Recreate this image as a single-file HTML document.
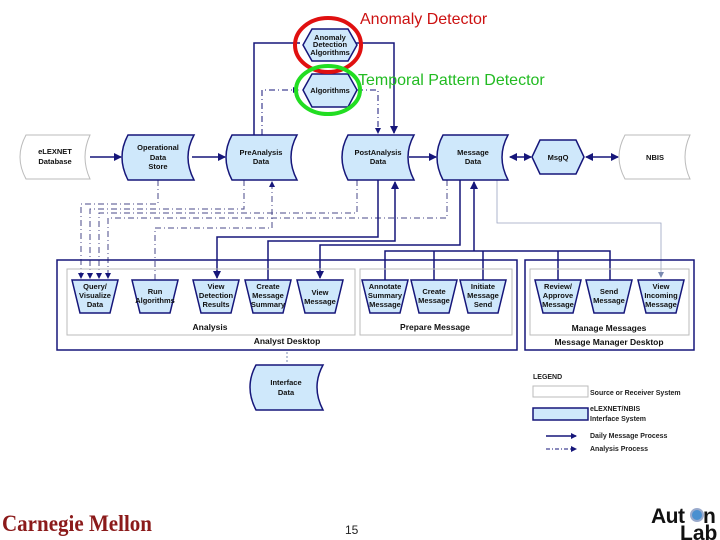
<!DOCTYPE html>
<html><head><meta charset="utf-8"><style>
html,body{margin:0;padding:0;background:#fff;width:720px;height:540px;overflow:hidden}
svg{display:block}
.s{font-family:"Liberation Sans",sans-serif}
</style></head><body>
<svg width="720" height="540" viewBox="0 0 720 540" xmlns="http://www.w3.org/2000/svg">
<defs>
<marker id="a" markerWidth="8" markerHeight="8" refX="7" refY="4" orient="auto" markerUnits="userSpaceOnUse"><path d="M0,0 L8,4 L0,8 z" fill="#16167a"/></marker>
<marker id="as" markerWidth="6" markerHeight="6" refX="5" refY="3" orient="auto" markerUnits="userSpaceOnUse"><path d="M0,0 L6,3 L0,6 z" fill="#16167a"/></marker>
<marker id="ag" markerWidth="6" markerHeight="6" refX="5" refY="3" orient="auto" markerUnits="userSpaceOnUse"><path d="M0,0 L6,3 L0,6 z" fill="#7a8ab0"/></marker>
<marker id="ab" markerWidth="8" markerHeight="8" refX="1" refY="4" orient="auto" markerUnits="userSpaceOnUse"><path d="M8,0 L0,4 L8,8 z" fill="#16167a"/></marker>
</defs>
<g fill="none" stroke="#16167a">
<polyline points="254,135 254,43 300,43" stroke-width="1.5"/>
<polyline points="356,43 394,43 394,133" stroke-width="1.5" marker-end="url(#a)"/>
<polyline points="262,135 262,90 298,90" stroke-width="1" stroke-dasharray="6,3,1,3" marker-end="url(#as)"/>
<polyline points="357,90 378,90 378,133" stroke-width="1" stroke-dasharray="6,3,1,3" marker-end="url(#as)"/>
<line x1="90" y1="157" x2="121" y2="157" stroke-width="1.5" marker-end="url(#a)"/>
<line x1="192" y1="157" x2="225" y2="157" stroke-width="1.5" marker-end="url(#a)"/>
<line x1="409" y1="157" x2="436" y2="157" stroke-width="1.5" marker-end="url(#a)"/>
<line x1="510" y1="157" x2="531" y2="157" stroke-width="1.5" marker-end="url(#a)" marker-start="url(#ab)"/>
<line x1="586" y1="157" x2="618" y2="157" stroke-width="1.5" marker-end="url(#a)" marker-start="url(#ab)"/>
<g stroke-width="1" stroke-dasharray="6,3,1,3" stroke="#4a4a8a">
<polyline points="158,180 158,204 81,204 81,278" marker-end="url(#as)"/>
<polyline points="244,180 244,209 90,209 90,278" marker-end="url(#as)"/>
<polyline points="357,180 357,213 99,213 99,278" marker-end="url(#as)"/>
<polyline points="447,180 447,218 108,218 108,278" marker-end="url(#as)"/>
<polyline points="155,280 155,228 272,228 272,182" marker-end="url(#as)"/>
</g>
<g stroke-width="1.5">
<polyline points="378,180 378,237 217,237 217,278" marker-end="url(#a)"/>
<polyline points="268,280 268,241 395,241 395,182" marker-end="url(#a)"/>
<polyline points="460,180 460,245 320,245 320,278" marker-end="url(#a)"/>
<polyline points="385,280 385,251 610,251 610,280"/>
<line x1="434" y1="251" x2="434" y2="280"/>
<line x1="483" y1="251" x2="483" y2="280"/>
<line x1="558" y1="251" x2="558" y2="280"/>
<line x1="474" y1="251" x2="474" y2="182" marker-end="url(#a)"/>
</g>
<polyline points="497,180 497,223 661,223 661,277" stroke="#9aa4c0" stroke-width="0.8" marker-end="url(#ag)"/>
<line x1="287" y1="352" x2="287" y2="363" stroke="#7a8ab0" stroke-width="1" stroke-dasharray="2,2"/>
</g>
<rect x="57" y="260" width="460" height="90" fill="none" stroke="#16167a" stroke-width="1.5"/>
<rect x="67" y="269" width="288" height="66" fill="none" stroke="#bbb" stroke-width="1"/>
<rect x="360" y="269" width="152" height="66" fill="none" stroke="#bbb" stroke-width="1"/>
<rect x="525" y="260" width="169" height="90" fill="none" stroke="#16167a" stroke-width="1.5"/>
<rect x="530" y="269" width="159" height="66" fill="none" stroke="#bbb" stroke-width="1"/>
<g stroke-width="1.5">
<path d="M26,135 L90,135 Q80,157 90,179 L26,179 Q14,157 26,135 Z" fill="#fff" stroke="#bbb" stroke-width="1"/>
<path d="M128,135 L194,135 Q182,157 194,180 L128,180 Q116,157 128,135 Z" fill="#cfe8fb" stroke="#16167a"/>
<path d="M232,135 L297,135 Q285,157 297,180 L232,180 Q220,157 232,135 Z" fill="#cfe8fb" stroke="#16167a"/>
<path d="M348,135 L414,135 Q402,157 414,180 L348,180 Q336,157 348,135 Z" fill="#cfe8fb" stroke="#16167a"/>
<path d="M443,135 L508,135 Q496,157 508,180 L443,180 Q431,157 443,135 Z" fill="#cfe8fb" stroke="#16167a"/>
<path d="M625,135 L690,135 Q680,157 690,179 L625,179 Q613,157 625,135 Z" fill="#fff" stroke="#bbb" stroke-width="1"/>
<path d="M256,365 L323,365 Q311,387 323,410 L256,410 Q244,387 256,365 Z" fill="#cfe8fb" stroke="#16167a"/>
<polygon points="540,140 576,140 584,157 576,174 540,174 532,157" fill="#cfe8fb" stroke="#16167a"/>
<polygon points="312,29 348,29 357,45 348,61 312,61 303,45" fill="#cfe8fb" stroke="#16167a"/>
<polygon points="312,74 348,74 357,90 348,107 312,107 303,90" fill="#cfe8fb" stroke="#16167a"/>
</g>
<g fill="#cfe8fb" stroke="#16167a" stroke-width="1.5">
<polygon points="72,280 118,280 110,313 80,313"/>
<polygon points="132,280 178,280 170,313 140,313"/>
<polygon points="193,280 239,280 231,313 201,313"/>
<polygon points="245,280 291,280 283,313 253,313"/>
<polygon points="297,280 343,280 335,313 305,313"/>
<polygon points="362,280 408,280 400,313 370,313"/>
<polygon points="411,280 457,280 449,313 419,313"/>
<polygon points="460,280 506,280 498,313 468,313"/>
<polygon points="535,280 581,280 573,313 543,313"/>
<polygon points="586,280 632,280 624,313 594,313"/>
<polygon points="638,280 684,280 676,313 646,313"/>
</g>
<ellipse cx="328" cy="45" rx="33" ry="27" fill="none" stroke="#e01010" stroke-width="4"/>
<ellipse cx="328" cy="90" rx="32" ry="24" fill="none" stroke="#22dd22" stroke-width="4"/>
<text class="s" x="360" y="24" font-size="16" fill="#cc1111">Anomaly Detector</text>
<text class="s" x="358" y="85" font-size="16" fill="#22bb22">Temporal Pattern Detector</text>
<g class="s" font-size="7.5" font-weight="bold" fill="#111" text-anchor="middle">
<text x="330" y="40">Anomaly</text><text x="330" y="47">Detection</text><text x="330" y="55">Algorithms</text>
<text x="330" y="93">Algorithms</text>
<text x="55" y="154">eLEXNET</text><text x="55" y="164">Database</text>
<text x="158" y="150">Operational</text><text x="158" y="160">Data</text><text x="158" y="169">Store</text>
<text x="261" y="155">PreAnalysis</text><text x="261" y="164">Data</text>
<text x="378" y="155">PostAnalysis</text><text x="378" y="164">Data</text>
<text x="473" y="155">Message</text><text x="473" y="164">Data</text>
<text x="558" y="160">MsgQ</text>
<text x="655" y="160">NBIS</text>
<text x="286" y="385">Interface</text><text x="286" y="395">Data</text>
<text x="95" y="289">Query/</text><text x="95" y="298">Visualize</text><text x="95" y="307">Data</text>
<text x="155" y="294">Run</text><text x="155" y="303">Algorithms</text>
<text x="216" y="289">View</text><text x="216" y="298">Detection</text><text x="216" y="307">Results</text>
<text x="268" y="289">Create</text><text x="268" y="298">Message</text><text x="268" y="307">Summary</text>
<text x="320" y="295">View</text><text x="320" y="304">Message</text>
<text x="385" y="289">Annotate</text><text x="385" y="298">Summary</text><text x="385" y="307">Message</text>
<text x="434" y="294">Create</text><text x="434" y="303">Message</text>
<text x="483" y="289">Initiate</text><text x="483" y="298">Message</text><text x="483" y="307">Send</text>
<text x="558" y="289">Review/</text><text x="558" y="298">Approve</text><text x="558" y="307">Message</text>
<text x="609" y="294">Send</text><text x="609" y="303">Message</text>
<text x="661" y="289">View</text><text x="661" y="298">Incoming</text><text x="661" y="307">Message</text>
<g font-size="8.5">
<text x="210" y="330">Analysis</text>
<text x="287" y="344">Analyst Desktop</text>
<text x="435" y="330">Prepare Message</text>
<text x="609" y="331">Manage Messages</text>
<text x="609" y="345">Message Manager Desktop</text>
</g>
</g>
<g class="s" font-size="7" font-weight="bold" fill="#222">
<text x="533" y="379">LEGEND</text>
<rect x="533" y="386" width="55" height="11" fill="#fff" stroke="#bbb"/>
<text x="590" y="395">Source or Receiver System</text>
<rect x="533" y="408" width="55" height="12" fill="#cfe8fb" stroke="#16167a" stroke-width="1.5"/>
<text x="590" y="411">eLEXNET/NBIS</text><text x="590" y="421">Interface System</text>
<line x1="546" y1="436" x2="576" y2="436" stroke="#16167a" stroke-width="1.5" marker-end="url(#as)"/>
<text x="590" y="438">Daily Message Process</text>
<line x1="546" y1="449" x2="576" y2="449" stroke="#16167a" stroke-width="1" stroke-dasharray="4,2,1,2" marker-end="url(#as)"/>
<text x="590" y="451">Analysis Process</text>
</g>
<text x="2" y="531" style="font-family:'Liberation Serif',serif" font-size="23" font-weight="bold" fill="#8b1a1a" textLength="150" lengthAdjust="spacingAndGlyphs">Carnegie Mellon</text>
<text class="s" x="345" y="534" font-size="12" fill="#222">15</text>
<text class="s" x="651" y="523" font-size="21" font-weight="bold" fill="#111" letter-spacing="-0.5">Aut</text>
<circle cx="697" cy="515" r="6" fill="#4a90d0" stroke="#9ac" stroke-width="2"/>
<text class="s" x="703" y="523" font-size="21" font-weight="bold" fill="#111">n</text>
<text class="s" x="680" y="540" font-size="21" font-weight="bold" fill="#111">Lab</text>
</svg>
</body></html>
